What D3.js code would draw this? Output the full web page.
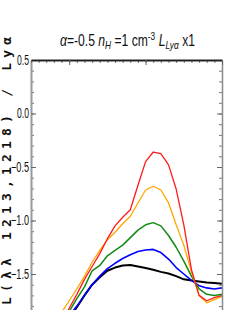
<!DOCTYPE html>
<html>
<head>
<meta charset="utf-8">
<script src="https://cdn.jsdelivr.net/npm/d3@7"></script>
<style>
  body { margin: 0; background: #fff; }
  svg { display: block; }
</style>
</head>
<body>
<div id="chart"></div>
<script>
// wavelength grid (x) and the five model curves, log ratio values (y)
const wavelength = [1199, 1200, 1201, 1202, 1203, 1204, 1205, 1206, 1207, 1208, 1209,
                    1210, 1211, 1212, 1213, 1214, 1215, 1216, 1217, 1218, 1219, 1220];
const curveBlack  = [-2.03, -1.92, -1.81, -1.70, -1.60, -1.53, -1.47, -1.44, -1.42, -1.416, -1.43,
                     -1.444, -1.46, -1.48, -1.495, -1.52, -1.55, -1.56, -1.57, -1.58, -1.584, -1.59];
const curveBlue   = [-1.98, -1.89, -1.80, -1.70, -1.60, -1.52, -1.45, -1.40, -1.355, -1.32, -1.29,
                     -1.275, -1.27, -1.30, -1.36, -1.44, -1.50, -1.56, -1.61, -1.63, -1.64, -1.63];
const curveGreen  = [-1.96, -1.85, -1.73, -1.62, -1.47, -1.42, -1.33, -1.28, -1.23, -1.16, -1.09,
                     -1.04, -1.02, -1.05, -1.14, -1.25, -1.38, -1.52, -1.64, -1.69, -1.70, -1.69];
const curveOrange = [-1.86, -1.75, -1.64, -1.52, -1.39, -1.28, -1.18, -1.11, -1.03, -0.96, -0.836,
                     -0.715, -0.68, -0.715, -0.836, -1.04, -1.23, -1.48, -1.70, -1.77, -1.74, -1.71];
const curveRed    = [-1.955, -1.82, -1.69, -1.55, -1.43, -1.31, -1.17, -1.05, -0.97, -0.90, -0.67,
                     -0.45, -0.36, -0.374, -0.48, -0.706, -1.04, -1.46, -1.70, -1.75, -1.72, -1.70];

const curves = [
  { values: curveBlack,  color: '#000000', w: 2.0 },
  { values: curveBlue,   color: '#0000ff', w: 1.6 },
  { values: curveGreen,  color: '#138a13', w: 1.5 },
  { values: curveOrange, color: '#ffa500', w: 1.3 },
  { values: curveRed,    color: '#ff1a1a', w: 1.3 }
];

const yMajor = [-2.0, -1.5, -1.0, -0.5, 0.0, 0.5];
const yLabels = ['−2.0', '−1.5', '−1.0', '−0.5', '0.0', '0.5'];
const xMajor = [1200, 1210, 1220];

const W = 248, H = 310;
const plot = { left: 31, right: 222, top: 60, bottom: 327.5 };

const svg = d3.select('#chart').append('svg')
  .attr('width', W)
  .attr('height', H);

const x = d3.scaleLinear().domain([1195, 1220]).range([plot.left, plot.right]);
const y = d3.scaleLinear().domain([-2.0, 0.5]).range([plot.bottom, plot.top]);

const yMinor = d3.range(-20, 6).map(d => d / 10);
const xMinor = d3.range(1195, 1221);

svg.append('clipPath').attr('id', 'clip')
  .append('rect')
  .attr('x', plot.left).attr('y', plot.top)
  .attr('width', plot.right - plot.left).attr('height', plot.bottom - plot.top);

// curves
const line = d3.line()
  .x((d, i) => x(wavelength[i]))
  .y(d => y(d));

svg.append('g').attr('clip-path', 'url(#clip)')
  .selectAll('path')
  .data(curves)
  .join('path')
  .attr('d', d => line(d.values))
  .attr('fill', 'none')
  .attr('stroke', d => d.color)
  .attr('stroke-width', d => d.w)
  .attr('stroke-linejoin', 'round');

function styleAxis(g, color, width) {
  g.select('.domain').attr('stroke', color).attr('stroke-width', width);
  g.selectAll('.tick line').attr('stroke', '#666');
}

// y label (drawn first so tick labels sit on top)
svg.append('text')
  .attr('transform', 'translate(11,37) rotate(-90)')
  .attr('text-anchor', 'end')
  .attr('font-family', 'DejaVu Sans Mono, monospace')
  .attr('font-weight', 'bold')
  .attr('font-size', 13)
  .attr('fill', '#111')
  .attr('textLength', 268)
  .attr('lengthAdjust', 'spacing')
  .text('L(λλ 1213,1218) / Lyα');

// left axis, major + minor
svg.append('g')
  .attr('transform', `translate(${plot.left},0)`)
  .call(d3.axisLeft(y).tickValues(yMinor).tickSize(-3).tickFormat(''))
  .call(g => g.select('.domain').remove())
  .call(g => g.selectAll('.tick line').attr('stroke', '#777'));

const left = svg.append('g')
  .attr('transform', `translate(${plot.left},0)`)
  .call(d3.axisLeft(y).tickValues(yMajor).tickSizeInner(-5).tickSizeOuter(0).tickPadding(2)
    .tickFormat((d, i) => yLabels[i]))
  .call(g => styleAxis(g, '#9a9a9a', 2));

left.selectAll('.tick text')
  .attr('font-family', 'Liberation Sans, Arial, sans-serif')
  .attr('font-size', 14)
  .attr('fill', '#111')
  .attr('textLength', d => d < 0 ? 18 : 12)
  .attr('lengthAdjust', 'spacingAndGlyphs');

// right axis
svg.append('g')
  .attr('transform', `translate(${plot.right},0)`)
  .call(d3.axisRight(y).tickValues(yMinor).tickSize(-3).tickFormat(''))
  .call(g => g.select('.domain').remove())
  .call(g => g.selectAll('.tick line').attr('stroke', '#777'));

svg.append('g')
  .attr('transform', `translate(${plot.right},0)`)
  .call(d3.axisRight(y).tickValues(yMajor).tickSizeInner(-5).tickSizeOuter(0).tickFormat(''))
  .call(g => styleAxis(g, '#8a8a8a', 1.5));

// top axis
svg.append('g')
  .attr('transform', `translate(0,${plot.top})`)
  .call(d3.axisTop(x).tickValues(xMinor).tickSize(-3).tickFormat(''))
  .call(g => g.select('.domain').remove())
  .call(g => g.selectAll('.tick line').attr('stroke', '#777'));

svg.append('g')
  .attr('transform', `translate(0,${plot.top})`)
  .call(d3.axisTop(x).tickValues(xMajor).tickSizeInner(-5).tickSizeOuter(0).tickFormat(''))
  .call(g => styleAxis(g, '#222', 2));

// title
const title = svg.append('text')
  .attr('x', 60)
  .attr('y', 46)
  .attr('font-family', 'Liberation Sans, Arial, sans-serif')
  .attr('font-size', 16)
  .attr('fill', '#111')
  .attr('textLength', 135)
  .attr('lengthAdjust', 'spacingAndGlyphs');

title.append('tspan').attr('font-style', 'italic').text('α');
title.append('tspan').text('=-0.5 ');
title.append('tspan').attr('font-style', 'italic').text('n');
title.append('tspan').attr('font-style', 'italic').attr('font-size', 11).attr('dy', 3).text('H');
title.append('tspan').attr('dy', -3).text(' =1 cm');
title.append('tspan').attr('font-size', 11).attr('dy', -6).text('-3');
title.append('tspan').attr('dy', 6).text('  ');
title.append('tspan').attr('font-style', 'italic').text('L');
title.append('tspan').attr('font-style', 'italic').attr('font-size', 11).attr('dy', 3).text('Lyα');
title.append('tspan').attr('dy', -3).text(' x1');
</script>
</body>
</html>
